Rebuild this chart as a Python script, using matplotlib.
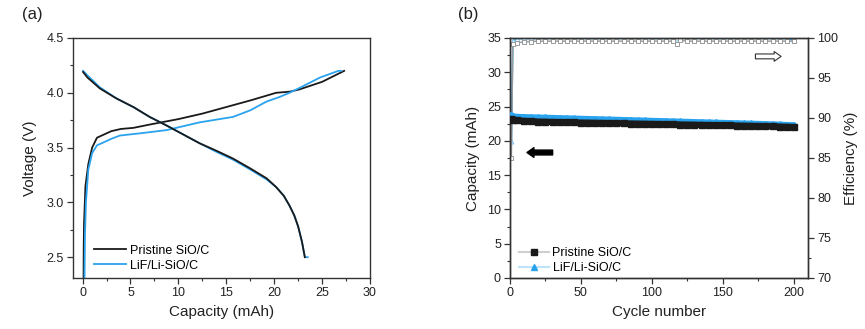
import matplotlib
matplotlib.use("Agg")
import matplotlib.pyplot as plt
from matplotlib.ticker import MultipleLocator, FixedLocator
from matplotlib.lines import Line2D

plt.rcParams['font.family'] = ['Liberation Sans', 'DejaVu Sans']

# ---------- Panel (a): voltage profiles ----------
pris_chg_cap = [0.10, 0.12, 0.15, 0.30, 0.60, 1.00, 1.50, 2.00, 3.00, 4.00, 5.30, 7.00, 10.0, 12.5, 15.0, 17.5, 20.2, 21.6, 22.6, 25.0, 27.3]
pris_chg_v   = [2.30, 2.60, 2.80, 3.15, 3.35, 3.50, 3.59, 3.61, 3.65, 3.67, 3.68, 3.71, 3.76, 3.81, 3.87, 3.93, 4.00, 4.01, 4.03, 4.10, 4.20]
pris_dis_cap = [0.05, 0.50, 1.80, 3.50, 5.30, 7.00, 8.80, 10.5, 12.2, 14.0, 15.7, 17.5, 19.2, 20.2, 21.0, 21.6, 22.1, 22.5, 22.9, 23.2]
pris_dis_v   = [4.19, 4.14, 4.04, 3.95, 3.87, 3.78, 3.70, 3.62, 3.54, 3.47, 3.40, 3.31, 3.22, 3.14, 3.06, 2.97, 2.88, 2.78, 2.64, 2.50]

lif_chg_cap = [0.20, 0.25, 0.35, 0.60, 1.00, 1.50, 2.00, 3.00, 3.90, 6.00, 8.80, 12.2, 15.7, 17.5, 19.2, 20.5, 21.6, 23.0, 24.8, 26.7, 27.0]
lif_chg_v   = [2.30, 2.70, 3.00, 3.30, 3.45, 3.52, 3.54, 3.58, 3.61, 3.63, 3.66, 3.73, 3.78, 3.84, 3.92, 3.96, 4.00, 4.06, 4.14, 4.20, 4.20]
lif_dis_cap = [0.05, 0.50, 1.80, 3.50, 5.30, 7.00, 8.80, 10.5, 12.2, 14.0, 15.7, 17.5, 19.2, 20.2, 21.0, 21.6, 22.1, 22.5, 22.9, 23.2, 23.5]
lif_dis_v   = [4.20, 4.16, 4.05, 3.95, 3.87, 3.78, 3.70, 3.62, 3.54, 3.46, 3.39, 3.30, 3.21, 3.14, 3.06, 2.97, 2.88, 2.78, 2.64, 2.50, 2.50]

# ---------- Panel (b): cycling ----------
cycles = [1, 2, 5, 10, 15, 20, 25, 30, 35, 40, 45, 50, 55, 60, 65, 70, 75, 80, 85, 90, 95, 100,
          105, 110, 115, 120, 125, 130, 135, 140, 145, 150, 155, 160, 165, 170, 175, 180, 185, 190, 195, 200]
pris_cap = [23.2, 23.1, 23.0, 22.9, 22.85, 22.8, 22.78, 22.75, 22.72, 22.7, 22.68, 22.66, 22.64, 22.62, 22.6, 22.58,
            22.56, 22.54, 22.52, 22.5, 22.48, 22.46, 22.44, 22.42, 22.4, 22.38, 22.36, 22.34, 22.32, 22.3, 22.28,
            22.26, 22.24, 22.22, 22.2, 22.18, 22.15, 22.12, 22.1, 22.07, 22.04, 22.0]
lif_cap = [23.8, 23.6, 23.55, 23.5, 23.47, 23.44, 23.41, 23.38, 23.35, 23.32, 23.29, 23.26, 23.23, 23.2, 23.17, 23.14,
           23.11, 23.08, 23.05, 23.02, 22.99, 22.96, 22.93, 22.9, 22.87, 22.84, 22.81, 22.78, 22.75, 22.72, 22.69,
           22.66, 22.63, 22.6, 22.57, 22.54, 22.51, 22.48, 22.44, 22.4, 22.36, 22.32]

eff_cycles = [1, 2, 5, 10, 15, 20, 25, 30, 35, 40, 45, 50, 55, 60, 65, 70, 75, 80, 85, 90, 95, 100,
              105, 110, 115, 118, 120, 125, 130, 135, 140, 145, 150, 155, 160, 165, 170, 175, 180, 185, 190, 195, 200]
pris_eff = [85.0, 99.2, 99.4, 99.5, 99.55, 99.6, 99.6, 99.6, 99.6, 99.6, 99.6, 99.6, 99.6, 99.6, 99.6, 99.6,
            99.6, 99.6, 99.6, 99.6, 99.6, 99.6, 99.6, 99.6, 99.6, 99.3, 99.7, 99.6, 99.6, 99.6, 99.6, 99.6,
            99.6, 99.6, 99.6, 99.6, 99.6, 99.6, 99.6, 99.6, 99.6, 99.6, 99.6]
lif_eff = [87.1, 99.6, 99.9, 99.95, 99.95, 99.95, 99.95, 99.95, 99.95, 99.95, 99.95, 99.95, 99.95, 99.95, 99.95, 99.95,
           99.95, 99.95, 99.95, 99.95, 99.95, 99.95, 99.95, 99.95, 99.95, 99.95, 99.95, 99.95, 99.95, 99.95, 99.95, 99.95,
           99.95, 99.95, 99.95, 99.95, 99.95, 99.95, 99.95, 99.95, 99.95, 99.95, 99.7]

BLACK = '#1a1a1a'
BLUE = '#2aa3ef'
GRAY = '#9a9a9a'
SPINE = '#333333'
TXT = '#222222'

fig = plt.figure(figsize=(8.65, 3.29), dpi=100)
ax1 = fig.add_axes([73/865, 1-278/329, (370-73)/865, (278-38)/329])
ax2 = fig.add_axes([510/865, 1-278/329, (808-510)/865, (278-38)/329])

def style(ax):
    for s in ax.spines.values():
        s.set_color(SPINE)
        s.set_linewidth(1.0)
    ax.tick_params(which='major', direction='out', length=4, width=0.9, colors=SPINE, labelsize=9, labelcolor=TXT, pad=2.5)
    ax.tick_params(which='minor', direction='out', length=2.5, width=0.8, colors=SPINE)

# Panel (a)
ax1.plot(pris_chg_cap, pris_chg_v, color=BLACK, lw=1.3, label='Pristine SiO/C')
ax1.plot(lif_chg_cap, lif_chg_v, color=BLUE, lw=1.3, label='LiF/Li-SiO/C')
ax1.plot(lif_dis_cap, lif_dis_v, color=BLUE, lw=1.3)
ax1.plot(pris_dis_cap, pris_dis_v, color=BLACK, lw=1.3)
ax1.set_xlim(-1, 30)
ax1.set_ylim(2.31, 4.5)
ax1.xaxis.set_major_locator(MultipleLocator(5))
ax1.xaxis.set_minor_locator(MultipleLocator(2.5))
ax1.yaxis.set_major_locator(FixedLocator([2.5, 3.0, 3.5, 4.0, 4.5]))
ax1.yaxis.set_minor_locator(MultipleLocator(0.25))
ax1.set_yticklabels(['2.5', '3.0', '3.5', '4.0', '4.5'])
ax1.set_xlabel('Capacity (mAh)', fontsize=11, color=TXT, labelpad=4)
ax1.set_ylabel('Voltage (V)', fontsize=11, color=TXT, labelpad=7)
style(ax1)
ax1.legend(loc='lower left', bbox_to_anchor=(0.045, -0.005), frameon=False, fontsize=9,
           handlelength=2.6, handletextpad=0.3, labelspacing=0.25, borderaxespad=0.2)

# Panel (b)
ax3 = ax2.twinx()
ax3.plot(eff_cycles, lif_eff, color=BLUE, lw=1.2, marker='^', ms=3.5, mfc='white', mec='#7cc4f2', mew=0.7, zorder=1)
ax3.plot(eff_cycles, pris_eff, color=GRAY, lw=1.0, marker='s', ms=3.2, mfc='white', mec=GRAY, mew=0.7, zorder=2)
ax3.set_ylim(70, 100)
ax3.yaxis.set_major_locator(MultipleLocator(5))
ax3.yaxis.set_minor_locator(FixedLocator([72.5]))
ax3.set_ylabel('Efficiency (%)', fontsize=11, color=TXT, labelpad=4)

ax2.plot(cycles, lif_cap, color=BLUE, lw=4.0, marker='^', ms=4.5, mfc=BLUE, mec=BLUE, zorder=3,
         solid_joinstyle='round', solid_capstyle='round')
ax2.plot(cycles, pris_cap, color=BLACK, lw=4.5, marker='s', ms=4.5, mfc=BLACK, mec=BLACK, zorder=4,
         solid_joinstyle='round', solid_capstyle='round')
ax2.set_zorder(ax3.get_zorder() + 1)
ax2.patch.set_visible(False)
ax2.set_xlim(0, 210)
ax2.set_ylim(0, 35)
ax2.xaxis.set_major_locator(MultipleLocator(50))
ax2.xaxis.set_minor_locator(MultipleLocator(25))
ax2.yaxis.set_major_locator(MultipleLocator(5))
ax2.yaxis.set_minor_locator(MultipleLocator(2.5))
ax2.set_xlabel('Cycle number', fontsize=11, color=TXT, labelpad=4)
ax2.set_ylabel('Capacity (mAh)', fontsize=11, color=TXT, labelpad=5)
style(ax2)
style(ax3)

# arrows
ax2.annotate('', xy=(10, 18.3), xytext=(32, 18.3),
             arrowprops=dict(arrowstyle='simple,head_length=0.5,head_width=0.7,tail_width=0.35',
                             fc='black', ec='black'))
ax3.annotate('', xy=(193, 97.7), xytext=(171, 97.7),
             arrowprops=dict(arrowstyle='simple,head_length=0.5,head_width=0.7,tail_width=0.35',
                             fc='white', ec='#333333', lw=0.8))

# legend for panel b
h1 = Line2D([], [], color='#cfcfcf', lw=1.5, marker='s', ms=4, mfc=BLACK, mec=BLACK)
h2 = Line2D([], [], color='#bfe3fb', lw=1.5, marker='^', ms=4.5, mfc=BLUE, mec=BLUE)
ax2.legend([h1, h2], ['Pristine SiO/C', 'LiF/Li-SiO/C'], loc='lower left', bbox_to_anchor=(0.0, -0.02),
           frameon=False, fontsize=9, handlelength=2.4, handletextpad=0.3, labelspacing=0.25, borderaxespad=0.3)

fig.text(22/865, 1-15/329, '(a)', fontsize=12, va='center', ha='left', color=TXT)
fig.text(458/865, 1-15/329, '(b)', fontsize=12, va='center', ha='left', color=TXT)

fig.savefig('out.png', dpi=100)
